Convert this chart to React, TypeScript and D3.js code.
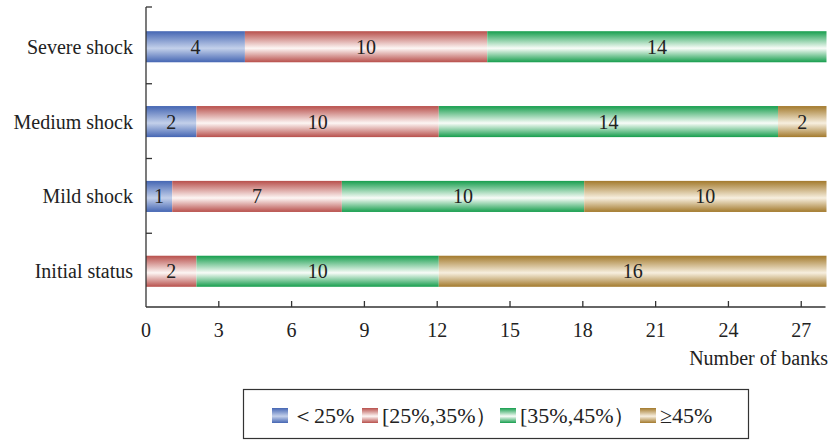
import React from "react";
import * as d3 from "d3";

const categories = ["Severe shock", "Medium shock", "Mild shock", "Initial status"];
const seriesNames = ["＜25%", "[25%,35%）", "[35%,45%）", "≥45%"];
const lt25 = [4, 2, 1, 0];
const s25to35 = [10, 10, 7, 2];
const s35to45 = [14, 14, 10, 10];
const ge45 = [0, 2, 10, 16];
const xTicks = [0, 3, 6, 9, 12, 15, 18, 21, 24, 27];

const colors = [
  { edge: "#4566b3", mid: "#c3d0ea" },
  { edge: "#b8504c", mid: "#fdf6f4" },
  { edge: "#179e4e", mid: "#f8fcf8" },
  { edge: "#a37a2d", mid: "#f7efdf" },
];

const W = 835;
const H = 442;
const x0 = 146;
const x1 = 825.5;
const yTop = 8;
const yBot = 307;
const font = "'Liberation Serif', 'DejaVu Serif', serif";

export default function App() {
  const x = d3.scaleLinear().domain([0, 28]).range([x0, x1]);
  const xb = d3.scaleLinear().domain([0, 28]).range([x0 + 2, x1 + 1]);
  const y = d3.scaleBand<string>().domain(categories).range([yTop + 1.5, yBot + 1.5]).paddingInner(0.585).paddingOuter(0.29);
  const series = [lt25, s25to35, s35to45, ge45];
  const data = categories.map((c, i) => ({ c, v: series.map((s) => s[i]) }));
  const stack = d3.stack<any, number>().keys([0, 1, 2, 3]).value((d, k) => d.v[k]);
  const stacked = stack(data);
  const bandB = d3.scaleBand<string>().domain(categories).range([yTop, yBot]);
  const bx = (v: number) => (v === 0 ? x0 : xb(v));

  const legendX = [272, 362, 500, 640];

  return (
    <svg width={W} height={H} style={{ position: "absolute", left: 0, top: 0 }} fontFamily={font}>
      <defs>
        {colors.map((c, i) => (
          <linearGradient key={i} id={"g" + i} x1="0" y1="0" x2="0" y2="1">
            <stop offset="0" stopColor={c.edge} />
            <stop offset="0.55" stopColor={c.mid} />
            <stop offset="1" stopColor={c.edge} />
          </linearGradient>
        ))}
      </defs>
      {stacked.map((layer, li) =>
        layer.map((d, i) => {
          const w = bx(d[1]) - bx(d[0]);
          if (d[1] - d[0] <= 0) return null;
          const yy = y(categories[i])!;
          return (
            <g key={li + "-" + i}>
              <rect x={bx(d[0])} y={yy} width={w} height={y.bandwidth()} fill={`url(#g${li})`} />
              <text x={(bx(d[0]) + bx(d[1])) / 2} y={yy + y.bandwidth() / 2 + 7} textAnchor="middle" fontSize={20} fill="#222">
                {d[1] - d[0]}
              </text>
            </g>
          );
        })
      )}
      {/* axes */}
      <line x1={x0} y1={yTop - 1} x2={x0} y2={yBot} stroke="#333" strokeWidth={1.3} />
      <line x1={x0} y1={yBot} x2={x1} y2={yBot} stroke="#333" strokeWidth={1.3} />
      <line x1={x0} y1={yTop - 1} x2={x0 + 6} y2={yTop - 1} stroke="#333" strokeWidth={1.3} />
      {categories.slice(1).map((c) => (
        <line key={c} x1={x0} x2={x0 + 6} y1={bandB(c)! + 1} y2={bandB(c)! + 1} stroke="#333" strokeWidth={1.3} />
      ))}
      {categories.map((c) => (
        <text key={c} x={133} y={y(c)! + y.bandwidth() / 2 + 7} textAnchor="end" fontSize={20} fill="#222">
          {c}
        </text>
      ))}
      {xTicks.map((t) => (
        <g key={t}>
          {t > 0 && <line x1={x(t)} x2={x(t)} y1={yBot} y2={yBot - 6} stroke="#333" strokeWidth={1.3} />}
          <text x={x(t)} y={337} textAnchor="middle" fontSize={20} fill="#222">
            {t}
          </text>
        </g>
      ))}
      <text x={828} y={365} textAnchor="end" fontSize={20} fill="#222">
        Number of banks
      </text>
      {/* legend */}
      <rect x={243.5} y={389.5} width={505} height={49} fill="none" stroke="#333" strokeWidth={1.2} />
      {seriesNames.map((n, i) => (
        <g key={n}>
          <rect x={legendX[i]} y={408} width={16} height={15} fill={`url(#g${i})`} />
          <text x={legendX[i] + 20} y={423} fontSize={22} fill="#222">
            {n}
          </text>
        </g>
      ))}
    </svg>
  );
}
